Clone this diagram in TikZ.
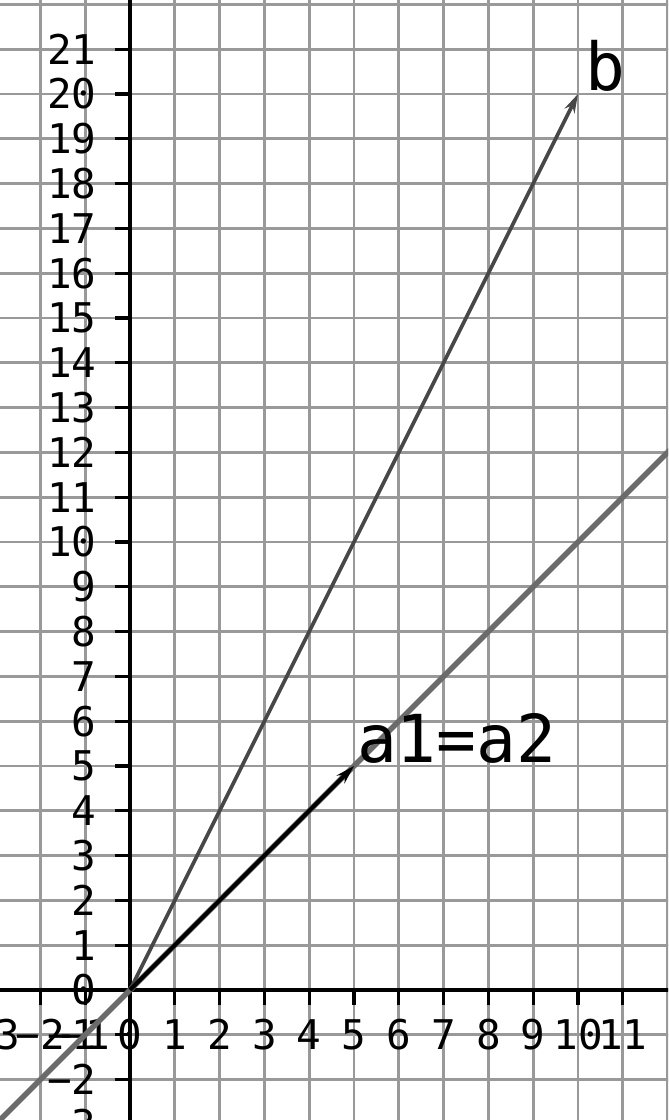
\documentclass[tikz,border=0pt]{standalone}
\usepackage{fontspec}
\setmonofont{DejaVu Sans Mono}
\usetikzlibrary{arrows.meta}
\tikzset{
  gridline/.style={draw=gray!80, line width=1.8pt},
  axisline/.style={draw=black, line width=2pt},
  ticklab/.style={font=\ttfamily\fontsize{26}{26}\selectfont, inner sep=0pt},
  veclab/.style={font=\ttfamily\fontsize{42}{42}\selectfont, inner sep=0pt, anchor=base west},
  lineq/.style={draw=black!58, line width=3.4pt},
  veca/.style={draw=black, line width=2.6pt, -{Stealth[length=12pt,width=7pt]}},
  vecb/.style={draw=black!72, line width=2.3pt, -{Stealth[length=12pt,width=7pt]}}
}
\begin{document}
\begin{tikzpicture}[x=1cm,y=1cm]
\useasboundingbox (-2.902,-2.902) rectangle (12.009,22.098);
\clip (-2.902,-2.902) rectangle (12.009,22.098);
% grid
\foreach \i in {-3,...,12} \draw[gridline] (\i,-3) -- (\i,22.2);
\foreach \j in {-3,...,22} \draw[gridline] (-3,\j) -- (12.1,\j);
% axes
\draw[axisline] (-3,0) -- (12.1,0);
\draw[axisline] (0,-3) -- (0,22.2);
\foreach \i in {-3,...,11} \draw[axisline] (\i,0) -- (\i,-0.33);
\foreach \j in {-3,...,21} \draw[axisline] (0,\j) -- (-0.33,\j);
% tick labels
\foreach \i in {-3,...,11} {
  \ifnum\i<0
    \node[ticklab] (x\i) at (\i,-1.0) {−\the\numexpr-\i\relax};
  \else
    \node[ticklab] (x\i) at (\i,-1.0) {\i};
  \fi
}
\foreach \j in {-3,...,21} {
  \ifnum\j<0
    \node[ticklab, anchor=east] (y\j) at (-0.74,\j) {−\the\numexpr-\j\relax};
  \else
    \node[ticklab, anchor=east] (y\j) at (-0.74,\j) {\j};
  \fi
}
% line through a
\coordinate (L1) at (-3,-3);
\coordinate (L2) at (12.2,12.2);
\draw[lineq] (L1) -- (L2);
% vectors
\coordinate (O) at (0,0);
\coordinate (A) at (5,5);
\coordinate (B) at (10,20);
\draw[vecb] (O) -- (B);
\draw[veca] (O) -- (A);
\node[veclab] (la) at (5.06,5.08) {a1=a2};
\node[veclab] (lb) at (10.15,20.07) {b};
\end{tikzpicture}
\end{document}
